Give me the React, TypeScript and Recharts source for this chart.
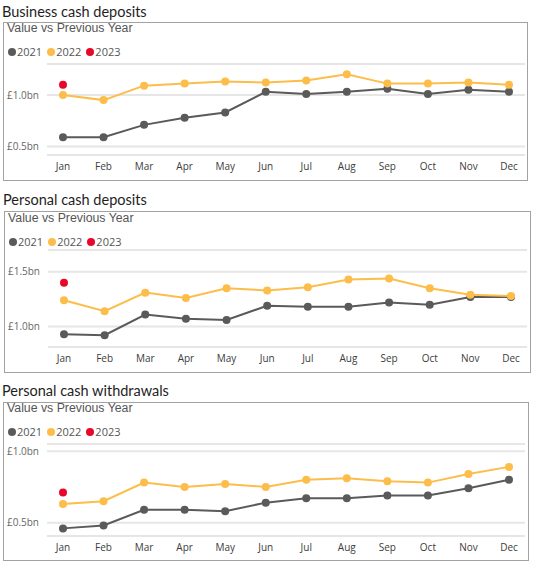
import React from 'react';
import { LineChart, Line, XAxis, YAxis, CartesianGrid } from 'recharts';

const months = ['Jan', 'Feb', 'Mar', 'Apr', 'May', 'Jun', 'Jul', 'Aug', 'Sep', 'Oct', 'Nov', 'Dec'];
const years = ['2021', '2022', '2023'];

// values in £bn
const business2021 = [0.59, 0.59, 0.71, 0.78, 0.83, 1.03, 1.01, 1.03, 1.06, 1.01, 1.05, 1.03];
const business2022 = [1.0, 0.95, 1.09, 1.11, 1.13, 1.12, 1.14, 1.2, 1.11, 1.11, 1.12, 1.1];
const business2023 = [1.1];
const businessTicks = [0.5, 1.0];

const depositsPersonal2021 = [0.93, 0.92, 1.11, 1.07, 1.06, 1.19, 1.18, 1.18, 1.22, 1.2, 1.27, 1.27];
const depositsPersonal2022 = [1.24, 1.14, 1.31, 1.26, 1.35, 1.33, 1.36, 1.43, 1.44, 1.35, 1.29, 1.28];
const depositsPersonal2023 = [1.4];
const depositsPersonalTicks = [1.0, 1.5];

const withdrawals2021 = [0.46, 0.48, 0.59, 0.59, 0.58, 0.64, 0.67, 0.67, 0.69, 0.69, 0.74, 0.8];
const withdrawals2022 = [0.63, 0.65, 0.78, 0.75, 0.77, 0.75, 0.8, 0.81, 0.79, 0.78, 0.84, 0.89];
const withdrawals2023 = [0.71];
const withdrawalsTicks = [0.5, 1.0];

const COLORS = ['#5a5a5a', '#fdbd4a', '#e8062b'];
const FONT = "'Segoe UI', 'Open Sans', sans-serif";

const buildRows = (a: number[], b: number[], c: number[]) =>
  months.map((m, i) => ({ month: m, y2021: a[i], y2022: b[i], y2023: c[i] ?? null }));

const fmt = (v: number) => `£${v.toFixed(1)}bn`;

interface PanelProps {
  title: string;
  titleY: number;
  subTop: number;
  legendTop: number;
  box: { left: number; top: number; width: number; height: number };
  rows: any[];
  ticks: number[];
  domain: [number, number];
  margin: { top: number; right: number; bottom: number; left: number };
}

function Panel({ title, titleY, subTop, legendTop, box, rows, ticks, domain, margin }: PanelProps) {
  return (
    <>
      <div
        style={{
          position: 'absolute',
          left: box.left - 1,
          top: titleY - 8,
          fontSize: 14.5,
          lineHeight: '16px',
          color: '#1e1e1e',
          fontFamily: "'Segoe UI', Lato, sans-serif",
          whiteSpace: 'nowrap',
        }}
      >
        {title}
      </div>
      <div
        style={{
          position: 'absolute',
          left: box.left,
          top: box.top,
          width: box.width,
          height: box.height,
          boxSizing: 'border-box',
          border: '1px solid #a2a2a2',
          background: '#fff',
        }}
      >
        <div
          style={{
            position: 'absolute',
            left: 3,
            top: subTop,
            fontSize: 12.3,
            lineHeight: '14px',
            color: '#555',
            fontFamily: "'Liberation Sans', Arial, sans-serif",
            whiteSpace: 'nowrap',
          }}
        >
          Value vs Previous Year
        </div>
        <div
          style={{
            position: 'absolute',
            left: 4,
            top: legendTop,
            display: 'flex',
            alignItems: 'center',
            fontSize: 11,
            lineHeight: '16px',
            color: '#555',
            fontFamily: FONT,
          }}
        >
          {years.map((y, i) => (
            <span key={y} style={{ display: 'flex', alignItems: 'center', marginRight: 5 }}>
              <span
                style={{
                  width: 8,
                  height: 8,
                  borderRadius: 4,
                  background: COLORS[i],
                  marginRight: 1,
                  display: 'inline-block',
                }}
              />
              {y}
            </span>
          ))}
        </div>
        <LineChart
          width={box.width - 2}
          height={box.height - 2}
          data={rows}
          margin={margin}
          style={{ position: 'absolute', left: 0, top: 0 }}
        >
          <CartesianGrid horizontal vertical={false} stroke="#e6e6e6" strokeWidth={2} />
          <XAxis
            dataKey="month"
            scale="point"
            padding={{ left: 16, right: 16 }}
            axisLine={false}
            tickLine={false}
            height={20}
            tick={{ fontSize: 10, fill: '#3c3c3c', fontFamily: FONT }}
            interval={0}
          />
          <YAxis
            type="number"
            domain={domain}
            ticks={ticks}
            allowDataOverflow
            tickFormatter={fmt}
            axisLine={false}
            tickLine={false}
            width={43}
            tick={{ fontSize: 10, fill: '#666', fontFamily: FONT }}
          />
          {['y2021', 'y2022', 'y2023'].map((k, i) => (
            <Line
              key={k}
              dataKey={k}
              stroke={COLORS[i]}
              strokeWidth={2}
              dot={{ r: 4, fill: COLORS[i], stroke: 'none' }}
              isAnimationActive={false}
              type="linear"
            />
          ))}
        </LineChart>
      </div>
    </>
  );
}

export default function App() {
  return (
    <div style={{ position: 'absolute', left: 0, top: 0, width: 535, height: 564, background: '#fff' }}>
      <Panel
        title="Business cash deposits"
        titleY={12}
        subTop={-2}
        legendTop={21}
        box={{ left: 3, top: 22, width: 525, height: 159 }}
        rows={buildRows(business2021, business2022, business2023)}
        ticks={businessTicks}
        domain={[0.418, 1.3]}
        margin={{ top: 41, right: 2, bottom: 5, left: 0 }}
      />
      <Panel
        title="Personal cash deposits"
        titleY={200}
        subTop={-1}
        legendTop={22}
        box={{ left: 4, top: 211, width: 527, height: 162 }}
        rows={buildRows(depositsPersonal2021, depositsPersonal2022, depositsPersonal2023)}
        ticks={depositsPersonalTicks}
        domain={[0.8125, 1.7]}
        margin={{ top: 38, right: 3, bottom: 5, left: 0 }}
      />
      <Panel
        title="Personal cash withdrawals"
        titleY={391}
        subTop={-2}
        legendTop={21}
        box={{ left: 3, top: 402, width: 526, height: 159 }}
        rows={buildRows(withdrawals2021, withdrawals2022, withdrawals2023)}
        ticks={withdrawalsTicks}
        domain={[0.4067, 1.05]}
        margin={{ top: 41, right: 3, bottom: 4, left: 0 }}
      />
    </div>
  );
}
